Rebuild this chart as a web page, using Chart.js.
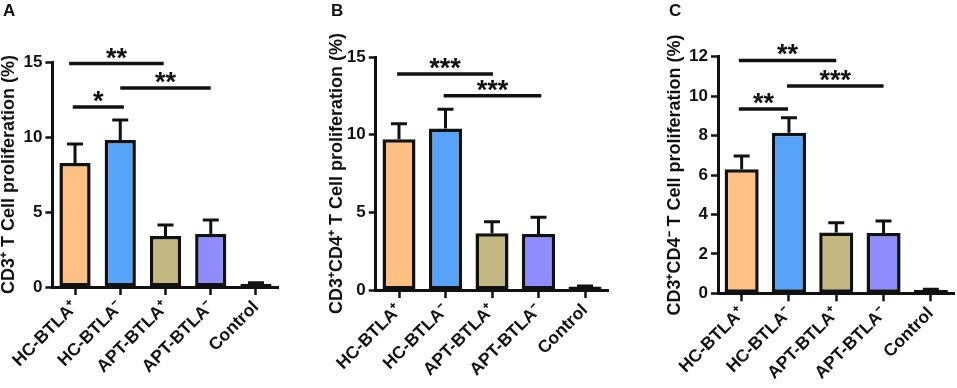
<!DOCTYPE html>
<html>
<head>
<meta charset="utf-8">
<script src="https://cdn.jsdelivr.net/npm/chart.js@4.4.0/dist/chart.umd.min.js"></script>
<style>
  html,body{margin:0;padding:0;background:#fff;}
  #wrap{position:relative;width:957px;height:388px;overflow:hidden;font-family:'Liberation Sans',Arial,sans-serif;}
  .pane{position:absolute;top:0;height:388px;}
  .letter{position:absolute;top:1px;font-weight:bold;font-size:17px;color:#111;}
</style>
</head>
<body>
<div id="wrap">
  <div class="pane" style="left:0;width:320px"><canvas id="cA" width="320" height="388"></canvas></div>
  <div class="pane" style="left:320px;width:320px"><canvas id="cB" width="320" height="388"></canvas></div>
  <div class="pane" style="left:640px;width:317px"><canvas id="cC" width="317" height="388"></canvas></div>
  <div class="letter" style="left:3px">A</div>
  <div class="letter" style="left:331px">B</div>
  <div class="letter" style="left:669px">C</div>
</div>
<script>
// ---- data ----
const categories = ['HC-BTLA\u207A', 'HC-BTLA\u207B', 'APT-BTLA\u207A', 'APT-BTLA\u207B', 'Control'];

const cd3Values   = [8.27, 9.80, 3.40, 3.53, 0.22];
const cd3Errors   = [1.26, 1.33, 0.73, 0.94, 0.06];
const cd3Ticks    = [0, 5, 10, 15];
const cd3Brackets = [[-0.13, 1.96, 14.9, '**'], [1.0, 3.0, 13.27, '**'], [-0.05, 1.08, 12.0, '*']];

const cd4PosValues   = [9.70, 10.40, 3.65, 3.60, 0.22];
const cd4PosErrors   = [1.00, 1.23, 0.75, 1.08, 0.04];
const cd4PosTicks    = [0, 5, 10, 15];
const cd4PosBrackets = [[-0.04, 2.02, 13.9, '***'], [0.96, 3.06, 12.5, '***']];

const cd4NegValues   = [6.29, 8.14, 3.09, 3.06, 0.17];
const cd4NegErrors   = [0.67, 0.76, 0.49, 0.61, 0.04];
const cd4NegTicks    = [0, 2, 4, 6, 8, 10, 12];
const cd4NegBrackets = [[-0.06, 2.0, 11.81, '**'], [0.96, 3.0, 10.51, '***'], [-0.06, 0.98, 9.35, '**']];

const barColors = ['#FFC183', '#56A3F9', '#C3B881', '#8F8CFD', '#111111'];

// ---- drawing ----
const FONT = "'Liberation Sans', Arial, sans-serif";
const INK = '#111';

const annotPlugin = {
  id: 'annot',
  afterDatasetsDraw(chart, args, opts) {
    const ctx = chart.ctx, x = chart.scales.x, y = chart.scales.y;
    ctx.save();
    ctx.strokeStyle = INK;
    ctx.lineWidth = 3;
    ctx.lineCap = 'butt';
    opts.values.forEach((v, i) => {
      const cx = x.getPixelForValue(i);
      const yt = y.getPixelForValue(v);
      const ye = y.getPixelForValue(v + opts.errors[i]);
      ctx.beginPath();
      ctx.moveTo(cx, yt); ctx.lineTo(cx, ye);
      ctx.moveTo(cx - 8, ye); ctx.lineTo(cx + 8, ye);
      ctx.stroke();
    });
    ctx.lineWidth = 3.5;
    ctx.fillStyle = INK;
    ctx.font = 'bold 27px ' + FONT;
    ctx.textAlign = 'center';
    ctx.textBaseline = 'alphabetic';
    opts.brackets.forEach(([a, b, v, lab]) => {
      const x1 = x.getPixelForValue(a), x2 = x.getPixelForValue(b);
      const yy = y.getPixelForValue(v);
      ctx.beginPath(); ctx.moveTo(x1, yy); ctx.lineTo(x2, yy); ctx.stroke();
      ctx.fillText(lab, (x1 + x2) / 2, yy + 3);
    });
    ctx.restore();
  }
};

function makeChart(id, values, errors, ticks, brackets, title, geo) {
  const maxV = ticks[ticks.length - 1];
  const step = ticks[1] - ticks[0];
  return new Chart(document.getElementById(id), {
    type: 'bar',
    data: {
      labels: categories,
      datasets: [{
        data: values,
        backgroundColor: barColors,
        borderColor: INK,
        borderWidth: 3.5,
        borderSkipped: false,
        barPercentage: geo.barPct,
        categoryPercentage: 1.0
      }]
    },
    options: {
      responsive: false,
      animation: false,
      layout: { padding: { top: geo.top, right: geo.right, left: 0, bottom: 0 } },
      plugins: {
        legend: { display: false },
        tooltip: { enabled: false },
        annot: { values: values, errors: errors, brackets: brackets }
      },
      scales: {
        x: {
          offset: true,
          afterFit: s => { s.height = geo.xh; },
          grid: { display: true, drawOnChartArea: false, offset: false, tickLength: 8, tickWidth: 2.5, tickColor: INK },
          border: { display: true, color: INK, width: 3 },
          ticks: { color: INK, font: { family: FONT, size: 17.5, weight: 'bold' }, minRotation: 45, maxRotation: 45, autoSkip: false, padding: 2 }
        },
        y: {
          min: 0, max: maxV,
          afterFit: s => { s.width = geo.yw; },
          afterBuildTicks: s => { s.ticks = ticks.map(v => ({ value: v })); },
          grid: { display: true, drawOnChartArea: false, tickLength: 7, tickWidth: 2.5, tickColor: INK },
          border: { display: true, color: INK, width: 3 },
          ticks: { stepSize: step, color: INK, font: { family: FONT, size: 17, weight: 'bold' }, padding: 3 },
          title: { display: true, text: title, color: INK, font: { family: FONT, size: 18, weight: 'bold', lineHeight: 1.0 }, padding: { top: geo.tp, bottom: 0 } }
        }
      }
    },
    plugins: [annotPlugin]
  });
}

makeChart('cA', cd3Values, cd3Errors, cd3Ticks, cd3Brackets, 'CD3\u207A T Cell proliferation (%)',
  { top: 62, right: 41.4, xh: 101, yw: 52.4, tp: 0, barPct: 0.69 });
makeChart('cB', cd4PosValues, cd4PosErrors, cd4PosTicks, cd4PosBrackets, 'CD3\u207ACD4\u207A T Cell proliferation (%)',
  { top: 57, right: 31.75, xh: 98, yw: 55.75, tp: 8, barPct: 0.71 });
makeChart('cC', cd4NegValues, cd4NegErrors, cd4NegTicks, cd4NegBrackets, 'CD3\u207ACD4\u207B T Cell proliferation (%)',
  { top: 56.7, right: 2.5, xh: 94.7, yw: 78, tp: 26, barPct: 0.72 });
</script>
</body>
</html>
